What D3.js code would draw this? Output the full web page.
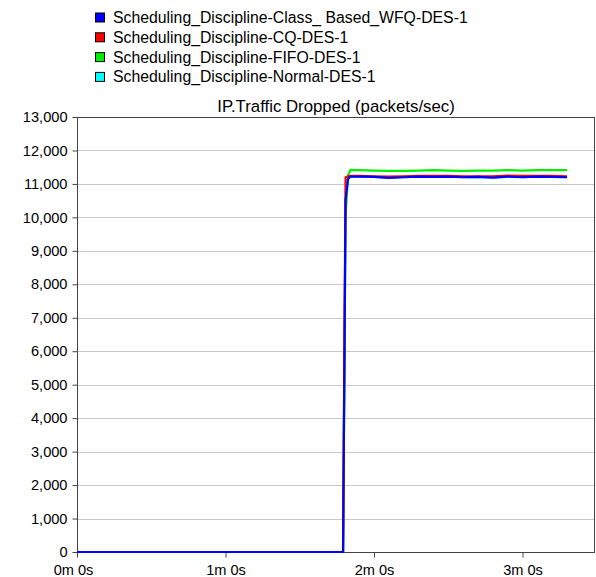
<!DOCTYPE html>
<html>
<head>
<meta charset="utf-8">
<script src="https://cdn.jsdelivr.net/npm/d3@7"></script>
<style>
  body { margin: 0; background: #fff; }
  text { font-family: Arial, "Liberation Sans", sans-serif; fill: #000; }
</style>
</head>
<body>
<div id="chart"></div>
<script>
// series names and colours
const seriesNames = [
  'Scheduling_Discipline-Class_ Based_WFQ-DES-1',
  'Scheduling_Discipline-CQ-DES-1',
  'Scheduling_Discipline-FIFO-DES-1',
  'Scheduling_Discipline-Normal-DES-1'
]
const seriesColors = ['#0000ff', '#ff0000', '#00ee00', '#00ffff']

// sample times (seconds)
const times = [0, 107.5, 108.5, 109.5, 110.5, 114, 120, 126, 132, 138, 144, 150, 156, 162, 168, 174, 180, 186, 192, 198]

const wfq    = [0, 0, 10500, 11150, 11220, 11220, 11210, 11180, 11200, 11220, 11210, 11220, 11200, 11210, 11190, 11220, 11200, 11220, 11210, 11200]
const cq     = [0, 0, 11200, 11230, 11240, 11240, 11230, 11220, 11230, 11240, 11240, 11240, 11230, 11230, 11230, 11250, 11240, 11240, 11240, 11230]
const fifo   = [0, 0, 10000, 11250, 11420, 11410, 11400, 11390, 11390, 11400, 11410, 11400, 11390, 11400, 11400, 11410, 11400, 11410, 11410, 11410]
const normal = [0, 0, 10500, 11150, 11220, 11220, 11210, 11180, 11200, 11220, 11210, 11220, 11200, 11210, 11190, 11220, 11200, 11220, 11210, 11200]

const yTicks = [0, 1000, 2000, 3000, 4000, 5000, 6000, 7000, 8000, 9000, 10000, 11000, 12000, 13000]
const xTicks = [0, 60, 120, 180]
const xTickLabels = ['0m 0s', '1m 0s', '2m 0s', '3m 0s']

const width = 596, height = 577
const margin = {left: 77, right: 1, top: 117, bottom: 25}

const svg = d3.select('#chart').append('svg')
  .attr('width', width)
  .attr('height', height)

const x = d3.scaleLinear().domain([0, 60]).range([margin.left, 225.5])
const y = d3.scaleLinear().domain([0, 13000]).range([height - margin.bottom, margin.top])

// legend
const legend = svg.append('g')
seriesNames.forEach((name, i) => {
  const ly = 17.5 + i * 19.8
  legend.append('rect')
    .attr('x', 95.5).attr('y', ly - 4.5)
    .attr('width', 9).attr('height', 9)
    .attr('fill', seriesColors[i])
    .attr('stroke', '#000').attr('stroke-width', 1)
  legend.append('text')
    .attr('x', 113).attr('y', ly + 5.5)
    .style('font-size', '15.8px')
    .text(name)
})

// title
svg.append('text')
  .attr('x', 336).attr('y', 112)
  .attr('text-anchor', 'middle')
  .style('font-size', '16.8px')
  .text('IP.Traffic Dropped (packets/sec)')

const x0 = margin.left, x1 = width - margin.right
// grid
svg.append('g')
  .selectAll('line')
  .data(yTicks.filter(d => d > 0 && d < 13000))
  .enter()
  .append('line')
  .attr('x1', x0).attr('x2', x1)
  .attr('y1', d => Math.round(y(d)) + 0.5).attr('y2', d => Math.round(y(d)) + 0.5)
  .attr('stroke', '#c8c8c8')

// frame
svg.append('rect')
  .attr('x', x0 + 0.5).attr('y', Math.round(y(13000)) + 0.5)
  .attr('width', x1 - x0 - 1).attr('height', Math.round(y(0)) - Math.round(y(13000)))
  .attr('fill', 'none').attr('stroke', '#444')

// y axis
const yAxis = d3.axisLeft(y).tickValues(yTicks).tickSize(5).tickFormat(d3.format(','))
const gy = svg.append('g')
  .attr('transform', `translate(${x0 + 0.5},0)`)
  .call(yAxis)
gy.select('.domain').remove()
gy.selectAll('line').attr('stroke', '#444')
gy.selectAll('text').style('font-size', '14.6px').attr('dx', '-2px').attr('fill', '#000')

// x axis
const xAxis = d3.axisBottom(x).tickValues(xTicks).tickSize(5)
  .tickFormat((d, i) => xTickLabels[i])
const gx = svg.append('g')
  .attr('transform', `translate(0,${Math.round(y(0)) + 0.5})`)
  .call(xAxis)
gx.select('.domain').remove()
gx.selectAll('line').attr('stroke', '#444')
gx.selectAll('text').style('font-size', '14.6px').attr('y', 12).attr('dy', '0.71em').attr('fill', '#000')
gx.selectAll('.tick').filter(d => d === 0).select('text').attr('dx', '-4px')

// lines
const line = d3.line()
  .x((d, i) => x(times[i]))
  .y(d => y(d))

const drawOrder = [3, 2, 1, 0]
const allSeries = [wfq, cq, fifo, normal]
drawOrder.forEach(i => {
  svg.append('path')
    .datum(allSeries[i])
    .attr('d', line)
    .attr('fill', 'none')
    .attr('stroke', seriesColors[i])
    .attr('stroke-width', 2.2)
    .attr('stroke-linejoin', 'round')
})
</script>
</body>
</html>
